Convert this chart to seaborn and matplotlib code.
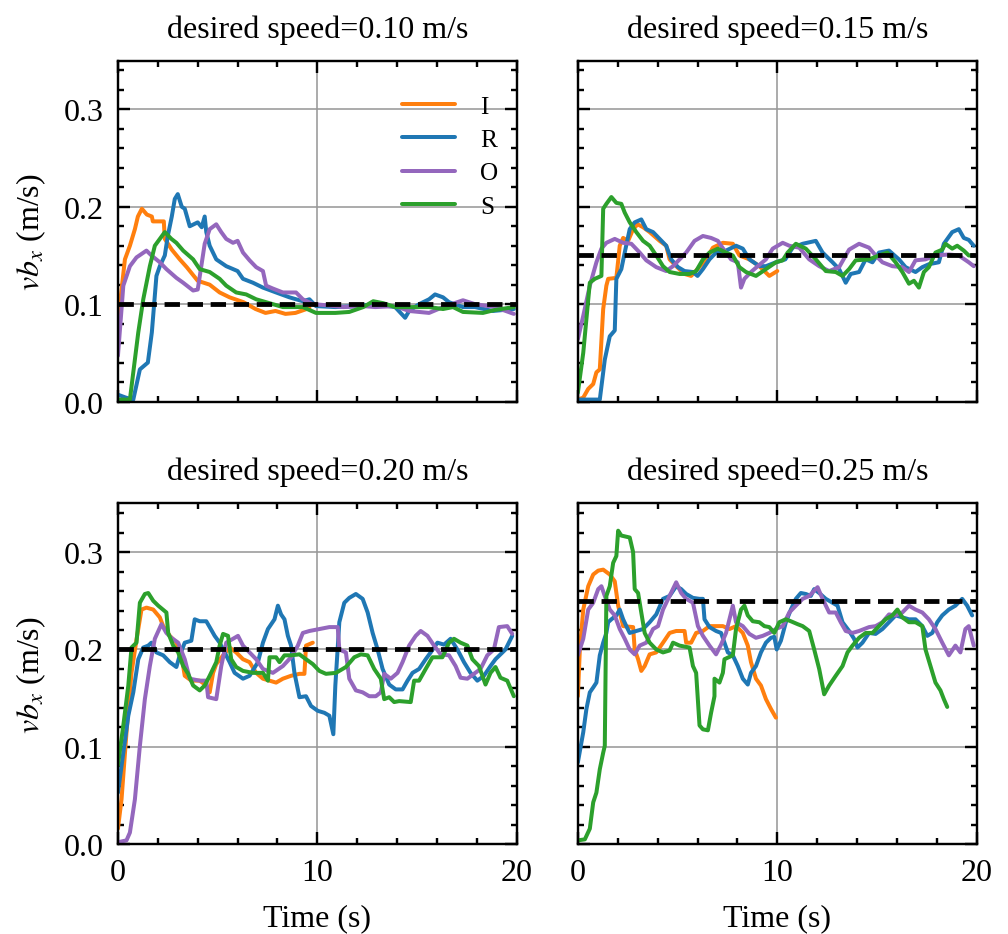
import pandas as pd
import seaborn as sns
import matplotlib.pyplot as plt
from matplotlib.ticker import MultipleLocator, FormatStrFormatter

# values (time in s, speed in m/s)
desired_speeds = [0.10, 0.15, 0.20, 0.25]
methods = ['I', 'R', 'O', 'S']
colors = ['#ff7f0e', '#1f77b4', '#9467bd', '#2ca02c']

# --- desired speed 0.10 ---
t_I_10 = [0, 0.1, 0.35, 0.6, 0.85, 1.0, 1.2, 1.45, 1.7, 1.75, 2.3, 2.35, 2.7, 3.1, 3.45, 4.0, 4.6,
          5.1, 5.6, 6.3, 6.9, 7.4, 7.9, 8.4, 8.9, 9.6]
v_I_10 = [0.08, 0.10, 0.146, 0.16, 0.177, 0.19, 0.198, 0.192, 0.19, 0.185, 0.185, 0.167, 0.156, 0.146,
          0.138, 0.124, 0.12, 0.112, 0.107, 0.102, 0.095, 0.091, 0.093, 0.090, 0.091, 0.096]
t_R_10 = [0, 0.4, 0.77, 1.1, 1.5, 1.7, 1.93, 2.1, 2.35, 2.5, 2.7, 2.85, 3.0, 3.2, 3.35, 3.6, 4.0, 4.2,
          4.35, 4.43, 4.6, 4.93, 5.43, 6.0, 6.27, 6.77, 7.27, 7.93, 8.6, 9.27, 9.6, 9.93, 10.9, 11.9,
          12.9, 13.9, 14.4, 14.6, 15.1, 15.6, 15.9, 16.3, 16.6, 17.3, 17.9, 18.8, 19.85]
v_R_10 = [0.007, 0.004, 0.002, 0.033, 0.04, 0.071, 0.129, 0.139, 0.15, 0.17, 0.19, 0.208, 0.213, 0.2,
          0.198, 0.18, 0.184, 0.179, 0.19, 0.174, 0.16, 0.146, 0.139, 0.134, 0.126, 0.122, 0.117,
          0.112, 0.107, 0.103, 0.105, 0.098, 0.097, 0.098, 0.1, 0.097, 0.086, 0.093, 0.1, 0.105,
          0.11, 0.107, 0.102, 0.097, 0.097, 0.093, 0.095]
t_O_10 = [0, 0.27, 0.6, 0.93, 1.43, 1.68, 2.1, 2.43, 2.93, 3.27, 3.77, 4.0, 4.18, 4.35, 4.6, 4.93, 5.18,
          5.43, 5.77, 6.0, 6.27, 6.6, 6.93, 7.27, 7.43, 7.77, 8.27, 8.93, 9.27, 9.77, 10.4, 11.3, 12.3,
          12.9, 13.9, 14.6, 15.6, 16.3, 17.3, 17.9, 18.9, 19.85]
v_O_10 = [0.047, 0.119, 0.139, 0.148, 0.155, 0.15, 0.143, 0.136, 0.127, 0.122, 0.114, 0.115, 0.139,
          0.162, 0.177, 0.182, 0.174, 0.167, 0.163, 0.165, 0.153, 0.145, 0.138, 0.134, 0.119, 0.116,
          0.112, 0.112, 0.105, 0.1, 0.099, 0.097, 0.098, 0.097, 0.098, 0.093, 0.091, 0.097, 0.104,
          0.1, 0.097, 0.09]
t_S_10 = [0, 0.6, 0.77, 1.02, 1.27, 1.6, 1.85, 2.1, 2.35, 2.68, 2.93, 3.27, 3.77, 4.1, 4.6, 5.1, 5.43,
          5.93, 6.43, 6.93, 7.43, 8.27, 9.27, 9.93, 10.9, 11.6, 12.3, 12.8, 13.3, 13.9, 14.6, 15.6,
          16.3, 16.8, 17.3, 18.3, 18.9, 19.85]
v_S_10 = [0.002, 0.002, 0.03, 0.071, 0.105, 0.139, 0.16, 0.167, 0.174, 0.167, 0.163, 0.155, 0.146,
          0.136, 0.133, 0.126, 0.119, 0.112, 0.11, 0.105, 0.102, 0.097, 0.097, 0.091, 0.091, 0.092,
          0.097, 0.103, 0.101, 0.097, 0.097, 0.097, 0.095, 0.097, 0.092, 0.091, 0.094, 0.097]

# --- desired speed 0.15 ---
t_I_15 = [0, 0.27, 0.52, 0.77, 0.93, 1.1, 1.27, 1.43, 1.52, 1.93, 2.1, 2.27, 2.52, 2.77, 3.0, 3.27,
          3.6, 4.1, 4.43, 4.6, 4.93, 5.35, 5.68, 6.0, 6.43, 6.77, 7.27, 7.77, 8.1, 8.6, 9.1, 9.6, 10.0]
v_I_15 = [0.002, 0.004, 0.013, 0.018, 0.03, 0.033, 0.095, 0.119, 0.126, 0.127, 0.16, 0.168, 0.165,
          0.177, 0.182, 0.179, 0.174, 0.165, 0.16, 0.146, 0.139, 0.131, 0.129, 0.136, 0.146, 0.158,
          0.163, 0.162, 0.15, 0.146, 0.139, 0.129, 0.134]
t_R_15 = [0, 1.1, 1.35, 1.6, 1.85, 1.93, 2.18, 2.35, 2.6, 2.85, 3.18, 3.43, 3.77, 4.1, 4.43, 4.68, 5.02,
          5.35, 5.77, 6.0, 6.27, 6.6, 6.93, 7.43, 7.93, 8.27, 8.6, 9.1, 9.43, 9.93, 10.4, 10.77, 11.27,
          11.93, 12.27, 12.77, 13.1, 13.43, 13.68, 14.1, 14.43, 14.77, 15.1, 15.6, 16.1, 16.43, 16.93,
          17.27, 17.6, 18.1, 18.35, 18.77, 19.1, 19.35, 19.6, 19.85]
v_R_15 = [0.002, 0.002, 0.043, 0.067, 0.073, 0.126, 0.136, 0.153, 0.177, 0.184, 0.187, 0.177, 0.174,
          0.167, 0.16, 0.146, 0.138, 0.134, 0.133, 0.129, 0.136, 0.146, 0.153, 0.155, 0.16, 0.157,
          0.146, 0.139, 0.139, 0.143, 0.146, 0.158, 0.162, 0.165, 0.153, 0.143, 0.136, 0.122, 0.131,
          0.133, 0.146, 0.143, 0.153, 0.155, 0.146, 0.138, 0.133, 0.138, 0.141, 0.143, 0.162, 0.174,
          0.177, 0.168, 0.166, 0.16]
t_O_15 = [0, 0.27, 0.6, 0.93, 1.18, 1.43, 1.85, 2.27, 2.68, 3.1, 3.43, 3.93, 4.43, 4.77, 5.1, 5.43, 5.85,
          6.27, 6.68, 7.02, 7.35, 7.68, 8.02, 8.18, 8.35, 8.68, 9.02, 9.43, 9.77, 10.27, 10.6, 11.1,
          11.6, 12.1, 12.6, 13.1, 13.6, 14.1, 14.6, 14.93, 15.27, 15.77, 16.27, 16.6, 16.93, 17.43,
          17.93, 18.6, 19.1, 19.6, 19.85]
v_O_15 = [0.064, 0.088, 0.119, 0.143, 0.157, 0.163, 0.167, 0.163, 0.162, 0.153, 0.145, 0.138, 0.134,
          0.139, 0.146, 0.153, 0.165, 0.17, 0.168, 0.165, 0.155, 0.146, 0.143, 0.117, 0.126, 0.133,
          0.139, 0.146, 0.157, 0.163, 0.16, 0.158, 0.146, 0.139, 0.134, 0.138, 0.156, 0.162, 0.158,
          0.15, 0.143, 0.139, 0.138, 0.133, 0.145, 0.146, 0.15, 0.151, 0.15, 0.143, 0.139]
t_S_15 = [0, 0.27, 0.43, 0.6, 0.85, 1.18, 1.27, 1.43, 1.68, 1.93, 2.18, 2.35, 2.6, 2.93, 3.27, 3.6, 3.93,
          4.27, 4.6, 5.1, 5.6, 5.93, 6.27, 6.6, 7.02, 7.43, 7.77, 8.1, 8.43, 8.93, 9.43, 9.93, 10.27,
          10.52, 10.93, 11.43, 11.93, 12.43, 12.93, 13.27, 13.6, 13.93, 14.6, 15.1, 15.52, 15.93,
          16.27, 16.6, 16.85, 17.1, 17.35, 17.6, 17.93, 18.27, 18.43, 18.77, 19.02, 19.35, 19.6, 19.85]
v_S_15 = [0.009, 0.05, 0.085, 0.122, 0.126, 0.129, 0.198, 0.203, 0.21, 0.204, 0.203, 0.194, 0.184,
          0.174, 0.165, 0.16, 0.15, 0.139, 0.133, 0.131, 0.131, 0.134, 0.146, 0.153, 0.157, 0.153,
          0.15, 0.138, 0.133, 0.129, 0.136, 0.143, 0.145, 0.153, 0.162, 0.157, 0.146, 0.134, 0.133,
          0.129, 0.136, 0.145, 0.146, 0.15, 0.153, 0.143, 0.133, 0.121, 0.124, 0.117, 0.133, 0.138,
          0.153, 0.156, 0.162, 0.157, 0.16, 0.155, 0.15, 0.15]

# --- desired speed 0.20 ---
t_I_20 = [0, 0.18, 0.43, 0.68, 0.93, 1.18, 1.43, 1.77, 2.1, 2.27, 2.6, 2.93, 3.18, 3.35, 3.68, 4.1, 4.43,
          4.6, 4.77, 4.93, 5.27, 5.6, 5.93, 6.27, 6.6, 6.93, 7.27, 7.6, 7.93, 8.27, 8.68, 9.1, 9.35,
          9.43, 9.77]
v_I_20 = [0.016, 0.046, 0.115, 0.176, 0.21, 0.241, 0.243, 0.241, 0.233, 0.224, 0.214, 0.207, 0.194,
          0.173, 0.168, 0.168, 0.163, 0.156, 0.176, 0.185, 0.194, 0.202, 0.197, 0.19, 0.187, 0.176,
          0.17, 0.168, 0.166, 0.17, 0.173, 0.175, 0.175, 0.204, 0.207]
t_R_20 = [0, 0.27, 0.52, 0.77, 1.02, 1.27, 1.52, 1.68, 1.93, 2.27, 2.6, 2.93, 3.1, 3.35, 3.68, 3.85,
          4.1, 4.43, 4.6, 4.85, 5.1, 5.35, 5.6, 5.85, 6.27, 6.6, 7.02, 7.27, 7.52, 7.85, 8.02, 8.18,
          8.35, 8.52, 8.68, 8.85, 9.1, 9.43, 9.68, 10.02, 10.35, 10.6, 10.8, 10.9, 11.1, 11.35, 11.6,
          11.93, 12.27, 12.52, 12.77, 13.02, 13.27, 13.6, 13.93, 14.27, 14.52, 14.77, 15.1, 15.43,
          15.68, 16.02, 16.35, 16.68, 17.02, 17.35, 17.68, 18.02, 18.35, 18.68, 18.93, 19.18, 19.43,
          19.77]
v_R_20 = [0.053, 0.094, 0.132, 0.156, 0.19, 0.202, 0.204, 0.207, 0.197, 0.194, 0.187, 0.182, 0.194,
          0.207, 0.209, 0.231, 0.229, 0.229, 0.223, 0.214, 0.207, 0.197, 0.187, 0.176, 0.17, 0.173,
          0.187, 0.207, 0.221, 0.231, 0.245, 0.236, 0.231, 0.214, 0.204, 0.176, 0.151, 0.152, 0.142,
          0.137, 0.135, 0.132, 0.113, 0.163, 0.228, 0.248, 0.253, 0.257, 0.252, 0.238, 0.217, 0.2,
          0.18, 0.164, 0.159, 0.159, 0.168, 0.176, 0.18, 0.19, 0.197, 0.207, 0.205, 0.211, 0.2, 0.187,
          0.176, 0.168, 0.173, 0.183, 0.19, 0.195, 0.2, 0.214]
t_O_20 = [0, 0.43, 0.6, 0.85, 1.1, 1.35, 1.6, 1.85, 2.18, 2.43, 2.68, 3.02, 3.35, 3.6, 4.1, 4.43, 4.52,
          4.93, 5.18, 5.43, 5.77, 6.02, 6.27, 6.6, 6.93, 7.27, 7.77, 8.27, 8.68, 9.02, 9.27, 9.6, 10.1,
          10.6, 11.02, 11.1, 11.43, 11.6, 11.93, 12.27, 12.6, 12.93, 13.18, 13.35, 13.68, 14.02, 14.27,
          14.6, 14.93, 15.18, 15.52, 15.85, 16.18, 16.6, 16.93, 17.18, 17.52, 17.85, 18.18, 18.52,
          18.85, 19.1, 19.52, 19.77]
v_O_20 = [0.002, 0.004, 0.012, 0.046, 0.101, 0.149, 0.183, 0.211, 0.226, 0.217, 0.212, 0.207, 0.19,
          0.17, 0.168, 0.168, 0.151, 0.149, 0.183, 0.207, 0.211, 0.214, 0.204, 0.197, 0.19, 0.18,
          0.176, 0.183, 0.192, 0.204, 0.217, 0.219, 0.221, 0.223, 0.223, 0.2, 0.197, 0.17, 0.158,
          0.156, 0.152, 0.152, 0.156, 0.175, 0.17, 0.176, 0.187, 0.204, 0.214, 0.219, 0.214, 0.204,
          0.195, 0.194, 0.183, 0.171, 0.17, 0.175, 0.18, 0.194, 0.2, 0.223, 0.224, 0.216]
t_S_20 = [0, 0.27, 0.52, 0.68, 0.93, 1.1, 1.35, 1.52, 1.77, 2.02, 2.43, 2.52, 2.77, 3.02, 3.27, 3.52,
          3.77, 4.1, 4.35, 4.6, 4.93, 5.1, 5.27, 5.52, 5.68, 5.93, 6.27, 6.77, 7.27, 7.52, 7.6, 7.93,
          8.1, 8.35, 8.68, 9.1, 9.43, 9.77, 10.1, 10.43, 10.93, 11.43, 11.85, 12.18, 12.52, 12.85,
          13.18, 13.35, 13.6, 13.85, 14.1, 14.68, 14.85, 15.1, 15.43, 15.77, 16.27, 16.6, 16.85, 17.18,
          17.52, 17.77, 18.1, 18.43, 18.68, 18.93, 19.18, 19.52, 19.85]
v_S_20 = [0.081, 0.122, 0.163, 0.202, 0.207, 0.248, 0.257, 0.258, 0.25, 0.245, 0.238, 0.217, 0.204,
          0.197, 0.183, 0.175, 0.163, 0.158, 0.163, 0.173, 0.187, 0.204, 0.216, 0.214, 0.19, 0.182,
          0.178, 0.176, 0.176, 0.168, 0.192, 0.192, 0.187, 0.194, 0.194, 0.195, 0.19, 0.185, 0.178,
          0.175, 0.176, 0.182, 0.192, 0.195, 0.194, 0.18, 0.17, 0.149, 0.151, 0.146, 0.147, 0.146,
          0.168, 0.168, 0.18, 0.192, 0.192, 0.207, 0.211, 0.207, 0.204, 0.19, 0.183, 0.164, 0.176,
          0.182, 0.171, 0.168, 0.152]

# --- desired speed 0.25 ---
t_I_25 = [0, 0.1, 0.27, 0.52, 0.77, 1.02, 1.27, 1.6, 1.85, 2.02, 2.27, 2.77, 2.85, 3.02, 3.18, 3.35,
          3.6, 3.93, 4.27, 4.6, 4.93, 5.35, 5.43, 5.68, 5.93, 6.27, 6.6, 6.93, 7.27, 7.6, 7.93, 8.27,
          8.52, 8.68, 8.93, 9.18, 9.43, 9.68, 9.93]
v_I_25 = [0.152, 0.2, 0.241, 0.265, 0.277, 0.281, 0.282, 0.277, 0.27, 0.245, 0.224, 0.223, 0.2, 0.19,
          0.178, 0.183, 0.195, 0.197, 0.207, 0.217, 0.219, 0.219, 0.207, 0.207, 0.217, 0.219, 0.224,
          0.224, 0.224, 0.221, 0.224, 0.217, 0.204, 0.187, 0.17, 0.163, 0.149, 0.139, 0.13]
t_R_25 = [0, 0.27, 0.43, 0.6, 0.77, 0.93, 1.1, 1.27, 1.43, 1.52, 1.68, 1.93, 2.1, 2.27, 2.43, 2.6, 2.93,
          3.27, 3.6, 3.93, 4.27, 4.6, 4.93, 5.18, 5.43, 5.77, 6.1, 6.27, 6.35, 6.6, 6.93, 7.18, 7.35,
          7.52, 7.77, 8.02, 8.27, 8.52, 8.68, 8.93, 9.18, 9.43, 9.68, 9.85, 9.97, 10.18, 10.43, 10.68,
          10.93, 11.18, 11.43, 11.68, 11.85, 12.1, 12.43, 12.77, 13.02, 13.27, 13.6, 13.85, 14.02,
          14.27, 14.6, 14.93, 15.27, 15.6, 15.93, 16.27, 16.6, 16.93, 17.27, 17.52, 17.77, 18.02,
          18.27, 18.6, 18.93, 19.27, 19.52, 19.77]
v_R_25 = [0.084, 0.115, 0.139, 0.156, 0.161, 0.166, 0.194, 0.207, 0.217, 0.228, 0.231, 0.235, 0.241,
          0.231, 0.224, 0.217, 0.219, 0.221, 0.228, 0.236, 0.252, 0.255, 0.265, 0.262, 0.257, 0.253,
          0.252, 0.252, 0.231, 0.223, 0.219, 0.217, 0.207, 0.197, 0.194, 0.183, 0.17, 0.164, 0.176,
          0.183, 0.197, 0.207, 0.212, 0.213, 0.2, 0.209, 0.228, 0.241, 0.252, 0.258, 0.257, 0.255,
          0.262, 0.258, 0.252, 0.248, 0.245, 0.228, 0.219, 0.211, 0.202, 0.207, 0.217, 0.216, 0.221,
          0.228, 0.235, 0.233, 0.231, 0.231, 0.224, 0.214, 0.217, 0.228, 0.235, 0.241, 0.245, 0.252,
          0.245, 0.235]
t_O_25 = [0, 0.27, 0.52, 0.77, 1.02, 1.18, 1.35, 1.6, 1.85, 2.1, 2.35, 2.6, 2.85, 3.1, 3.43, 3.77, 4.02,
          4.27, 4.6, 4.93, 5.18, 5.43, 5.77, 6.02, 6.27, 6.6, 6.93, 7.18, 7.43, 7.77, 7.93, 8.27, 8.6,
          8.93, 9.27, 9.6, 9.93, 10.27, 10.6, 10.93, 11.27, 11.6, 12.02, 12.27, 12.6, 12.93, 13.18,
          13.43, 13.77, 14.1, 14.6, 14.93, 15.27, 15.6, 15.93, 16.27, 16.6, 16.93, 17.27, 17.6, 17.93,
          18.27, 18.6, 18.93, 19.18, 19.43, 19.6, 19.85]
v_O_25 = [0.194, 0.211, 0.241, 0.248, 0.262, 0.265, 0.255, 0.241, 0.235, 0.221, 0.211, 0.2, 0.195,
          0.204, 0.207, 0.221, 0.224, 0.241, 0.255, 0.269, 0.258, 0.252, 0.248, 0.224, 0.214, 0.204,
          0.195, 0.205, 0.217, 0.245, 0.228, 0.224, 0.216, 0.212, 0.214, 0.217, 0.221, 0.224, 0.238,
          0.245, 0.252, 0.255, 0.264, 0.252, 0.238, 0.238, 0.228, 0.219, 0.217, 0.219, 0.223, 0.224,
          0.228, 0.236, 0.235, 0.238, 0.245, 0.241, 0.238, 0.231, 0.221, 0.207, 0.194, 0.204, 0.197,
          0.221, 0.224, 0.204]
t_S_25 = [0, 0.35, 0.6, 0.77, 0.93, 1.1, 1.27, 1.35, 1.43, 1.6, 1.77, 1.93, 2.02, 2.18, 2.6, 2.77, 2.85,
          3.02, 3.18, 3.35, 3.6, 3.93, 4.27, 4.6, 4.77, 5.1, 5.6, 5.77, 5.93, 6.1, 6.27, 6.52, 6.68,
          6.85, 6.85, 7.1, 7.27, 7.35, 7.77, 7.93, 8.18, 8.35, 8.52, 8.77, 9.1, 9.35, 9.6, 9.85, 10.1,
          10.43, 10.68, 11.02, 11.27, 11.6, 11.85, 12.1, 12.35, 12.6, 12.93, 13.27, 13.52, 13.77,
          14.1, 14.43, 14.77, 15.1, 15.43, 15.77, 16.02, 16.27, 16.6, 16.93, 17.27, 17.43, 17.68,
          17.93, 18.18, 18.35, 18.52]
v_S_25 = [0.004, 0.005, 0.016, 0.043, 0.053, 0.077, 0.094, 0.101, 0.255, 0.265, 0.289, 0.296, 0.322,
          0.317, 0.315, 0.3, 0.262, 0.258, 0.238, 0.217, 0.207, 0.2, 0.197, 0.199, 0.207, 0.204, 0.202,
          0.183, 0.176, 0.122, 0.118, 0.117, 0.135, 0.152, 0.17, 0.166, 0.176, 0.19, 0.194, 0.221,
          0.241, 0.245, 0.235, 0.229, 0.228, 0.224, 0.223, 0.217, 0.228, 0.231, 0.229, 0.226, 0.224,
          0.219, 0.2, 0.18, 0.154, 0.163, 0.173, 0.183, 0.197, 0.204, 0.212, 0.217, 0.217, 0.224,
          0.231, 0.235, 0.241, 0.233, 0.228, 0.228, 0.224, 0.2, 0.183, 0.166, 0.158, 0.149, 0.141]

series = {
    0.10: [(t_I_10, v_I_10), (t_R_10, v_R_10), (t_O_10, v_O_10), (t_S_10, v_S_10)],
    0.15: [(t_I_15, v_I_15), (t_R_15, v_R_15), (t_O_15, v_O_15), (t_S_15, v_S_15)],
    0.20: [(t_I_20, v_I_20), (t_R_20, v_R_20), (t_O_20, v_O_20), (t_S_20, v_S_20)],
    0.25: [(t_I_25, v_I_25), (t_R_25, v_R_25), (t_O_25, v_O_25), (t_S_25, v_S_25)],
}

rows = []
for spd, lst in series.items():
    for m, (t, v) in zip(methods, lst):
        for ti, vi in zip(t, v):
            rows.append((spd, m, ti, vi))
df = pd.DataFrame(rows, columns=['speed', 'method', 'time', 'vbx'])

sns.set_style('ticks')
plt.rcParams['font.family'] = ['Liberation Serif', 'DejaVu Serif']
plt.rcParams['mathtext.fontset'] = 'stix'
plt.rcParams['font.size'] = 8
plt.rcParams['text.color'] = 'black'
plt.rcParams['axes.labelcolor'] = 'black'
plt.rcParams['axes.edgecolor'] = 'black'
plt.rcParams['xtick.color'] = 'black'
plt.rcParams['ytick.color'] = 'black'
plt.rcParams['axes.linewidth'] = 0.6
plt.rcParams['xtick.direction'] = 'in'
plt.rcParams['ytick.direction'] = 'in'
plt.rcParams['xtick.top'] = True
plt.rcParams['ytick.right'] = True
plt.rcParams['xtick.major.size'] = 3
plt.rcParams['ytick.major.size'] = 3
plt.rcParams['xtick.minor.size'] = 1.5
plt.rcParams['ytick.minor.size'] = 1.5
plt.rcParams['xtick.major.width'] = 0.6
plt.rcParams['ytick.major.width'] = 0.6
plt.rcParams['xtick.minor.width'] = 0.6
plt.rcParams['ytick.minor.width'] = 0.6
plt.rcParams['xtick.labelsize'] = 8
plt.rcParams['ytick.labelsize'] = 8

fig, axes = plt.subplots(2, 2, figsize=(3.5, 3.2465), dpi=288, sharex=True, sharey=True)
plt.subplots_adjust(left=0.117, right=0.969, top=0.934, bottom=0.096, wspace=0.153, hspace=0.299)

for i, (ax, spd) in enumerate(zip(axes.flat, desired_speeds)):
    ax.grid(True, which='major', color='0.6', lw=0.4)
    sub = df[df['speed'] == spd]
    sns.lineplot(data=sub, x='time', y='vbx', hue='method', hue_order=methods,
                 palette=colors, estimator=None, sort=False, lw=1.0, ax=ax, legend=(i == 0))
    ax.axhline(spd, color='black', ls=(0, (3.2, 1.6)), lw=1.2)
    ax.set_title(f'desired speed={spd:.2f} m/s', fontsize=8)
    ax.set_xlim(0, 20)
    ax.set_ylim(0, 0.35)
    ax.xaxis.set_major_locator(MultipleLocator(10))
    ax.xaxis.set_minor_locator(MultipleLocator(2))
    ax.yaxis.set_major_locator(MultipleLocator(0.1))
    ax.yaxis.set_minor_locator(MultipleLocator(0.02))
    ax.yaxis.set_major_formatter(FormatStrFormatter('%.1f'))
    ax.set_xlabel('Time (s)' if i >= 2 else '')
    ax.set_ylabel(r'$vb_x$ (m/s)' if i % 2 == 0 else '')
    ax.tick_params(which='both', direction='in', top=True, right=True)

handles, labels = axes[0, 0].get_legend_handles_labels()
axes[0, 0].legend(handles, labels, loc='upper left', bbox_to_anchor=(0.655, 0.965), frameon=False,
                  fontsize=6.3, handlelength=2.1, labelspacing=0.42, handletextpad=1.0)

plt.savefig('out.png', dpi=288)
